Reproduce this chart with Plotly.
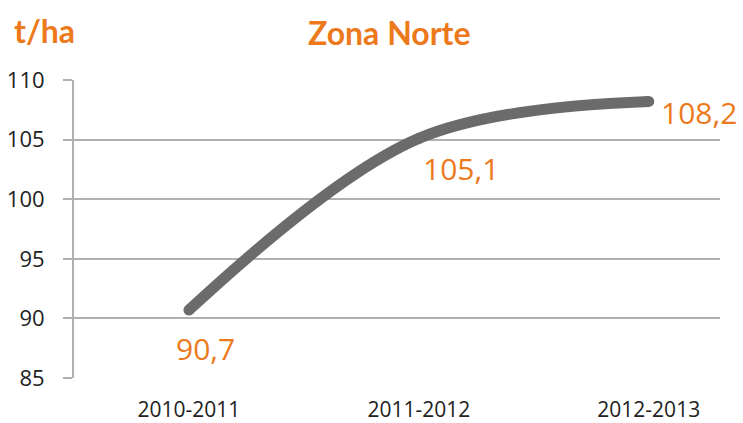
import plotly.graph_objects as go

categories = ["2010-2011", "2011-2012", "2012-2013"]
values = [90.7, 105.1, 108.2]
value_labels = ["90,7", "105,1", "108,2"]
y_ticks = [85, 90, 95, 100, 105, 110]

orange = "#EC7A1C"
grid = "#b0b0b0"
font_main = "Open Sans, Carlito, sans-serif"

fig = go.Figure()
fig.add_trace(go.Scatter(
    x=categories, y=values, mode="lines+markers",
    line=dict(color="#6b6b6b", width=11, shape="spline", smoothing=1.0),
    marker=dict(size=11, color="#6b6b6b"),
    hoverinfo="skip", showlegend=False,
))

shifts = [(17, -38), (42, -30), (50, -11)]
for c, v, t, (dx, dy) in zip(categories, values, value_labels, shifts):
    fig.add_annotation(x=c, y=v, text=t, showarrow=False,
                       xshift=dx, yshift=dy,
                       font=dict(family=font_main, size=30, color=orange))

fig.add_annotation(xref="paper", yref="paper", x=(389 - 74) / 646, y=1.0, yshift=48,
                   text="<b>Zona Norte</b>", showarrow=False, xanchor="center", yanchor="middle",
                   font=dict(family="Lato, sans-serif", size=32, color=orange))
fig.add_annotation(xref="paper", yref="paper", x=(12 - 74) / 646, y=1.0, yshift=50, xanchor="left",
                   text="<b>t/ha</b>", showarrow=False, yanchor="middle",
                   font=dict(family="Lato, sans-serif", size=32, color=orange))

fig.update_layout(
    width=743, height=423,
    margin=dict(l=74, r=23, t=80, b=45, autoexpand=False),
    paper_bgcolor="white", plot_bgcolor="white",
    xaxis=dict(type="category", range=[-0.5, 2.31], showgrid=False, automargin=False,
               showline=False, ticks="", ticklabelstandoff=17,
               tickfont=dict(family=font_main, size=21, color="#222")),
    yaxis=dict(range=[85, 110], tickvals=y_ticks, showgrid=True, gridcolor=grid, gridwidth=2,
               showline=True, linecolor=grid, linewidth=2, ticks="outside", ticklen=9,
               tickcolor=grid, tickwidth=2, zeroline=False, automargin=False,
               ticklabelstandoff=14,
               tickfont=dict(family=font_main, size=22, color="#222")),
)

fig.write_html("out.html", config={"displayModeBar": False},
               post_script="document.body.style.margin='0';")
